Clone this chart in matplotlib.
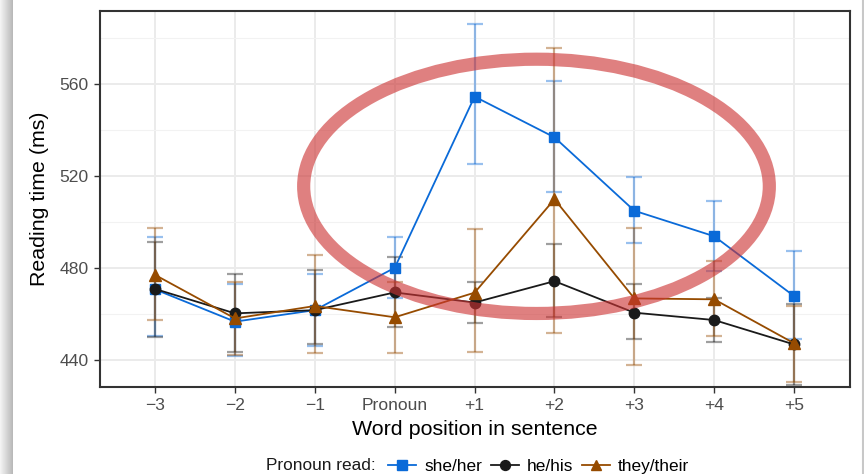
import numpy as np
import matplotlib
matplotlib.use("Agg")
import matplotlib.pyplot as plt
from matplotlib.patches import Ellipse

plt.rcParams['font.family'] = ['Liberation Sans', 'DejaVu Sans']

positions = ["\u22123", "\u22122", "\u22121", "Pronoun", "+1", "+2", "+3", "+4", "+5"]

she_mean = [470.7, 456.7, 461.7, 480.1, 554.5, 536.8, 504.9, 493.8, 467.8]
she_lo = [450.4, 441.7, 446.0, 467.1, 525.2, 513.2, 491.0, 478.7, 449.1]
she_hi = [493.4, 473.0, 477.4, 493.4, 586.0, 561.3, 519.4, 509.1, 487.4]

he_mean = [470.9, 460.3, 461.7, 469.4, 465.0, 474.3, 460.6, 457.4, 446.8]
he_lo = [450.0, 443.5, 446.8, 454.5, 456.2, 458.9, 449.1, 448.0, 429.0]
he_hi = [491.5, 477.4, 479.1, 484.6, 474.0, 490.3, 472.9, 467.1, 464.3]

they_mean = [477.0, 458.1, 463.5, 458.6, 469.3, 509.9, 466.8, 466.4, 447.3]
they_lo = [457.4, 442.0, 442.9, 442.9, 443.6, 451.6, 438.0, 450.4, 430.6]
they_hi = [497.3, 474.0, 485.7, 474.0, 496.8, 575.5, 497.6, 483.0, 463.6]

series = [
    ("she/her", she_mean, she_lo, she_hi, "#0a6ad8", "s", 7),
    ("he/his", he_mean, he_lo, he_hi, "#1a1a1a", "o", 7.5),
    ("they/their", they_mean, they_lo, they_hi, "#964b00", "^", 8),
]

fig = plt.figure(figsize=(8.64, 4.74), dpi=100)
ax = fig.add_axes([100 / 864, 1 - 387 / 474, 750 / 864, 376 / 474])

x = np.arange(1, len(positions) + 1)
handles = []
for name, m, lo, hi, col, mk, ms in series:
    m = np.array(m)
    err = [m - np.array(lo), np.array(hi) - m]
    ax.errorbar(x, m, yerr=err, fmt="none", ecolor=col, alpha=0.42,
                elinewidth=1.6, capsize=6, capthick=1.6, zorder=3)
for name, m, lo, hi, col, mk, ms in series:
    h, = ax.plot(x, m, color=col, marker=mk, markersize=ms, linewidth=1.3,
                 zorder=4, label=name)
    handles.append(h)

ax.set_xlim(0.31, 9.7)
ax.set_ylim(428.3, 591.7)
ax.set_xticks(x)
ax.set_xticklabels(positions)
ax.set_yticks([440, 480, 520, 560])
ax.set_yticks([460, 500, 540, 580], minor=True)
ax.grid(True, which="major", color="#ebebeb", linewidth=1.4, zorder=0)
ax.grid(True, which="minor", axis="y", color="#f2f2f2", linewidth=0.8, zorder=0)
ax.set_axisbelow(True)
ax.tick_params(axis="both", which="major", labelsize=12.6, labelcolor="#4d4d4d",
               color="#333333", length=4, width=1, pad=4)
ax.tick_params(axis="y", which="minor", length=0)
for s in ax.spines.values():
    s.set_color("#333333")
    s.set_linewidth(1.5)

ax.set_xlabel("Word position in sentence", fontsize=15.4, labelpad=5)
ax.set_ylabel("Reading time (ms)", fontsize=15.4, labelpad=8)

# highlight ellipse
ell = Ellipse((5.775, 515.5), 5.83, 110.5, fill=False, edgecolor="#cc3333",
              alpha=0.62, linewidth=9.5, zorder=6)
ax.add_patch(ell)

fig.text(266 / 864, 1 - 466 / 474, "Pronoun read:", fontsize=12.4, va="center",
         ha="left", color="#1a1a1a")
fig.legend(handles=handles, loc="center left",
           bbox_to_anchor=(388 / 864, 1 - 466 / 474), ncol=3, frameon=False,
           fontsize=12.4, handlelength=1.65, handletextpad=0.45,
           columnspacing=0.5, markerscale=0.95, borderpad=0, borderaxespad=0)

# screenshot edges
sh = fig.add_axes([0, 0, 13 / 864, 1])
grad = np.linspace(0.96, 0.72, 50).reshape(1, -1)
sh.imshow(grad, cmap="gray", vmin=0, vmax=1, aspect="auto")
sh.axis("off")
fig.add_artist(plt.Line2D([862.5 / 864, 862.5 / 864], [0, 1],
                          transform=fig.transFigure, color="#c8c8c8", lw=1.5))

fig.savefig("out.png", dpi=100)
